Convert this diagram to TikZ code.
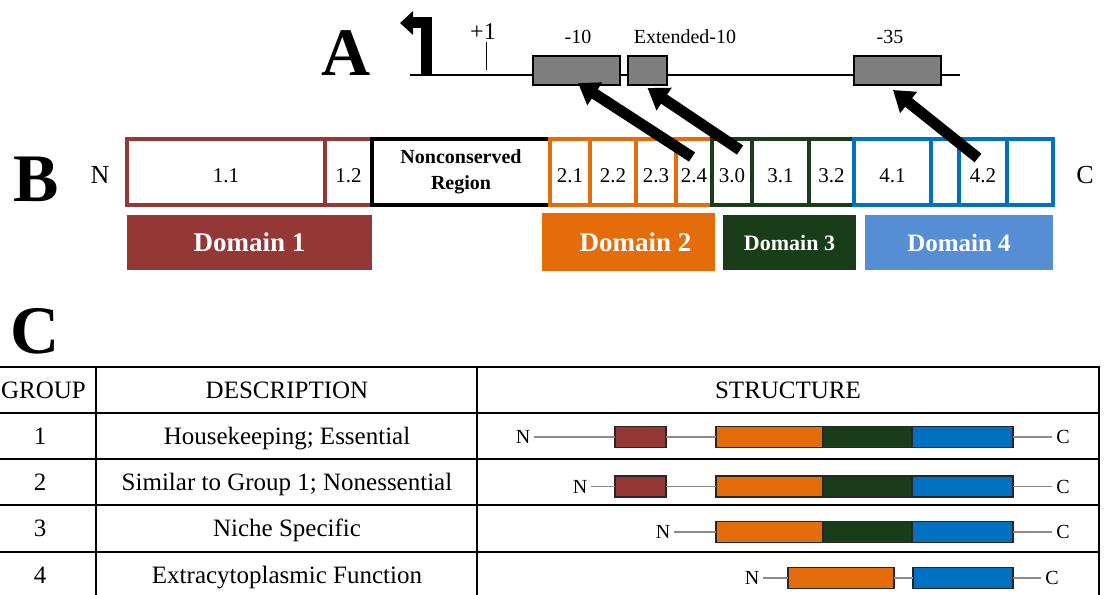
\documentclass[tikz,border=0pt]{standalone}
\usepackage{fontspec}
\setmainfont{Liberation Serif}
\usetikzlibrary{arrows.meta}

\definecolor{brn}{HTML}{953735}
\definecolor{org}{HTML}{E46C0A}
\definecolor{grn}{HTML}{183D18}
\definecolor{blu}{HTML}{0070C0}
\definecolor{lblu}{HTML}{558ED5}
\definecolor{promo}{HTML}{7F7F7F}
\definecolor{linkgray}{HTML}{8C8C8C}

\newcommand{\pfs}[1]{\fontsize{#1}{#1}\selectfont}

\begin{document}
\begin{tikzpicture}[x=1pt,y=-1pt,
  panel/.style={font=\bfseries\pfs{68}, inner sep=0pt, anchor=base},
  plab/.style={font=\pfs{20}, inner sep=0pt},
  pbox/.style={draw=black, line width=2.2pt, fill=promo, inner sep=0pt, outer sep=0pt, minimum height=29pt},
  bigarrow/.style={line width=11pt, draw=black, -{Triangle[width=26pt,length=20pt]}},
  cell/.style={draw=#1, line width=4pt, inner sep=0pt, outer sep=0pt, minimum height=66pt,
    anchor=west, font=\pfs{21}, text height=21pt, text depth=0pt},
  ncbox/.style={draw=black, line width=4pt, inner sep=0pt, outer sep=0pt, minimum height=66pt,
    anchor=west, align=center, font=\bfseries\fontsize{20}{26}\selectfont},
  endlab/.style={font=\pfs{26}, inner sep=0pt},
  dom/.style={fill=#1, text=white, inner sep=0pt, outer sep=0pt, font=\bfseries\pfs{27}},
  tline/.style={draw=black, line width=1.8pt, line cap=rect},
  tx/.style={font=\pfs{25}, inner sep=0pt, anchor=base},
  sbox/.style={draw=black!85, line width=1.3pt, inner sep=0pt, outer sep=0pt, minimum height=21pt, anchor=west},
  ntip/.style={font=\pfs{20}, inner sep=4pt, outer sep=0pt},
  link/.style={draw=linkgray, line width=1.2pt}
]
\clip (0,0) rectangle (1105,594);

% ---------- A: promoter ----------
\node[panel] (pa) at (346.5,75) {A};

\coordinate (pl0) at (410,75);
\coordinate (pl1) at (960,75);
\draw[line width=1.5pt] (pl0) -- (pl1);

% transcription start site
\coordinate (tsb) at (426.5,75);
\coordinate (tsc) at (426.5,23);
\coordinate (tsh) at (400,23);
\draw[line width=11pt, line join=miter, -{Triangle[width=23pt,length=13pt]}] (tsb) -- (tsc) -- (tsh);

\node[plab, font=\pfs{24}] (lp1) at (483,32) {+1};
\coordinate (tk0) at (486,42);
\coordinate (tk1) at (486,70);
\draw[line width=1pt] (tk0) -- (tk1);

\node[pbox, minimum width=87pt] (m10) at (576.5,70.5) {};
\node[pbox, minimum width=39pt] (ext) at (647.5,70.5) {};
\node[pbox, minimum width=87pt] (m35) at (897.5,70.5) {};

\node[plab] (l10) at (578,37) {-10};
\node[plab] (lext) at (685,37) {Extended-10};
\node[plab] (l35) at (890,37) {-35};

% ---------- B: sigma factor regions ----------
\node[panel] (pb) at (36.5,201) {B};
\node[endlab] (bn) at (100,175) {N};
\node[endlab] (bc) at (1085,175) {C};

\node[cell=brn, minimum width=198pt] (c11) at (127,172) {1.1};
\node[cell=brn, minimum width=47pt] (c12) at (c11.east) {1.2};
\node[ncbox, minimum width=178pt] (ncr) at (c12.east) {Nonconserved\\Region};
\node[cell=org, minimum width=40pt] (c21) at (ncr.east) {2.1};
\node[cell=org, minimum width=46pt] (c22) at (c21.east) {2.2};
\node[cell=org, minimum width=40pt] (c23) at (c22.east) {2.3};
\node[cell=org, minimum width=36pt] (c24) at (c23.east) {2.4};
\node[cell=grn, minimum width=40pt] (c30) at (c24.east) {3.0};
\node[cell=grn, minimum width=57pt] (c31) at (c30.east) {3.1};
\node[cell=grn, minimum width=45pt] (c32) at (c31.east) {3.2};
\node[cell=blu, minimum width=77pt] (c41) at (c32.east) {4.1};
\node[cell=blu, minimum width=28pt] (c4a) at (c41.east) {};
\node[cell=blu, minimum width=48pt] (c42) at (c4a.east) {4.2};
\node[cell=blu, minimum width=46pt] (c4b) at (c42.east) {};

\node[dom=brn, minimum width=245pt, minimum height=55pt] (d1) at (249.5,242.5) {Domain 1};
\node[dom=org, minimum width=173pt, minimum height=58pt] (d2) at (628.5,242) {\hspace{14pt}Domain 2};
\node[dom=grn, minimum width=133pt, minimum height=55pt, font=\bfseries\pfs{22}] (d3) at (789.5,242.5) {Domain 3};
\node[dom=lblu, minimum width=188pt, minimum height=55pt, font=\bfseries\pfs{25}] (d4) at (959,242.5) {Domain 4};

% region-to-element contacts
\coordinate (t1) at (692,157);
\coordinate (t2) at (740,150);
\coordinate (t3) at (978,158);
\draw[bigarrow] (t1) -- ([xshift=1.5pt,yshift=2pt]m10.south);
\draw[bigarrow] (t2) -- ([yshift=-3pt]ext.south);
\draw[bigarrow] (t3) -- ([xshift=-4.5pt,yshift=-5pt]m35.south);

% ---------- C: groups table ----------
\node[panel] (pc) at (35.5,353) {C};

\draw[tline] (-5,367) -- (1099,367);
\draw[tline] (-5,413) -- (1099,413);
\draw[tline] (-5,459) -- (1099,459);
\draw[tline] (-5,505) -- (1099,505);
\draw[tline] (-5,552) -- (1099,552);
\draw[tline] (96,367) -- (96,600);
\draw[tline] (477,367) -- (477,600);
\draw[tline] (1099,367) -- (1099,600);

\node[tx] (hg) at (43.5,398) {GROUP};
\node[tx] (hd) at (287,398) {DESCRIPTION};
\node[tx] (hs) at (788,398) {STRUCTURE};

\node[tx] (g1) at (40,444) {1};
\node[tx] (g2) at (40,490) {2};
\node[tx] (g3) at (40,536) {3};
\node[tx] (g4) at (40,583) {4};
\node[tx] (e1) at (287,444) {Housekeeping; Essential};
\node[tx] (e2) at (287,490) {Similar to Group 1; Nonessential};
\node[tx] (e3) at (287,536) {Niche Specific};
\node[tx] (e4) at (287,583) {Extracytoplasmic Function};

% group 1
\node[sbox, fill=brn, minimum width=51pt] (r1a) at (615,437) {};
\node[sbox, fill=org, minimum width=107pt] (r1b) at (716,437) {};
\node[sbox, fill=grn, minimum width=89pt] (r1c) at (r1b.east) {};
\node[sbox, fill=blu, minimum width=101pt] (r1d) at (r1c.east) {};
\node[ntip] (r1n) at (523,437) {N};
\node[ntip] (r1k) at (1063,437) {C};
\draw[link] (r1n.east) -- (r1a.west);
\draw[link] (r1a.east) -- (r1b.west);
\draw[link] (r1d.east) -- (r1k.west);

% group 2
\node[sbox, fill=brn, minimum width=51pt] (r2a) at (615,486.5) {};
\node[sbox, fill=org, minimum width=107pt] (r2b) at (716,486.5) {};
\node[sbox, fill=grn, minimum width=89pt] (r2c) at (r2b.east) {};
\node[sbox, fill=blu, minimum width=101pt] (r2d) at (r2c.east) {};
\node[ntip] (r2n) at (580,486.5) {N};
\node[ntip] (r2k) at (1063,486.5) {C};
\draw[link] (r2n.east) -- (r2a.west);
\draw[link] (r2a.east) -- (r2b.west);
\draw[link] (r2d.east) -- (r2k.west);

% group 3
\node[sbox, fill=org, minimum width=107pt] (r3b) at (716,532) {};
\node[sbox, fill=grn, minimum width=89pt] (r3c) at (r3b.east) {};
\node[sbox, fill=blu, minimum width=101pt] (r3d) at (r3c.east) {};
\node[ntip] (r3n) at (663,532) {N};
\node[ntip] (r3k) at (1063,532) {C};
\draw[link] (r3n.east) -- (r3b.west);
\draw[link] (r3d.east) -- (r3k.west);

% group 4
\node[sbox, fill=org, minimum width=106pt] (r4b) at (788,578) {};
\node[sbox, fill=blu, minimum width=100pt] (r4d) at (913,578) {};
\node[ntip] (r4n) at (752,578) {N};
\node[ntip] (r4k) at (1052,578) {C};
\draw[link] (r4n.east) -- (r4b.west);
\draw[link] (r4b.east) -- (r4d.west);
\draw[link] (r4d.east) -- (r4k.west);
\end{tikzpicture}
\end{document}
